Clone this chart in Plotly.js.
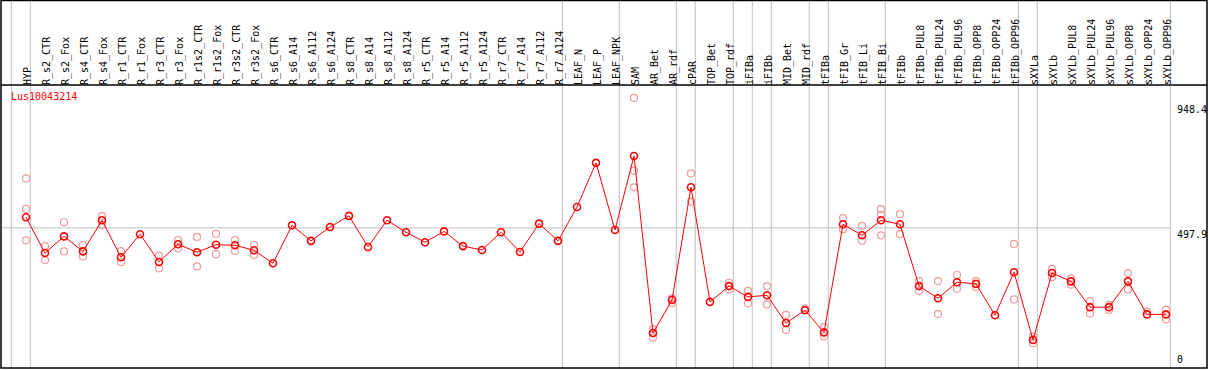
<!DOCTYPE html>
<html>
<head>
<meta charset="utf-8">
<script src="https://cdn.plot.ly/plotly-3.0.1.min.js"></script>
<style>html,body{margin:0;padding:0;background:#fff;}#chart{width:1209px;height:370px;}</style>
</head>
<body>
<div id="chart"></div>
<script>
const categories = ["HYP","R_s2_CTR","R_s2_Fox","R_s4_CTR","R_s4_Fox","R_r1_CTR","R_r1_Fox","R_r3_CTR","R_r3_Fox","R_r1s2_CTR","R_r1s2_Fox","R_r3s2_CTR","R_r3s2_Fox","R_s6_CTR","R_s6_A14","R_s6_A112","R_s6_A124","R_s8_CTR","R_s8_A14","R_s8_A112","R_s8_A124","R_r5_CTR","R_r5_A14","R_r5_A112","R_r5_A124","R_r7_CTR","R_r7_A14","R_r7_A112","R_r7_A124","LEAF_N","LEAF_P","LEAF_NPK","SAM","AR_Bet","AR_rdf","cPAR","TOP_Bet","TOP_rdf","iFIBa","iFIBb","MID_Bet","MID_rdf","tFIBa","tFIB_Gr","tFIB_Li","tFIB_Bi","tFIBb","tFIBb_PUL8","tFIBb_PUL24","tFIBb_PUL96","tFIBb_OPP8","tFIBb_OPP24","tFIBb_OPP96","sXYLa","sXYLb","sXYLb_PUL8","sXYLb_PUL24","sXYLb_PUL96","sXYLb_OPP8","sXYLb_OPP24","sXYLb_OPP96"];

const meanValues = [536,407,467,413,525,392,475,375,439,410,437,435,417,370,507,451,501,541,429,525,482,446,485,432,418,482,411,513,451,573,732,490,757,119,238,644,231,288,249,255,155,201,121,511,471,525,511,288,244,302,296,183,338,94,335,305,212,212,305,186,186];

const rep1 = [676,432,518,436,541,414,null,398,454,465,476,454,437,null,null,null,null,null,null,null,null,null,null,null,null,null,null,null,null,null,null,null,966,133,226,694,null,300,271,288,184,208,140,533,505,565,547,306,306,328,307,null,440,106,350,315,234,221,335,197,203];
const rep2 = [566,381,413,395,508,374,null,352,423,359,403,414,400,null,null,null,null,null,null,null,null,null,null,null,null,null,null,null,null,null,null,null,704,102,244,592,null,276,226,222,130,null,106,493,451,545,475,270,187,278,284,null,240,82,320,293,189,202,276,null,168];
const rep3 = [453,null,null,null,null,null,null,null,null,null,null,null,null,null,null,null,null,null,null,null,null,null,null,null,null,null,null,null,null,null,null,null,644,null,null,null,null,null,null,null,null,null,null,null,null,471,null,null,null,null,null,null,null,null,null,null,null,null,null,null,null];

const geneName = "Lus10043214";
const yTickVals = [497.9, 948.4];
const yTickText = ["497.9", "948.4"];
const yZeroVal = [0];
const yZeroText = ["0"];
const groupEnds = [-1,0,28,31,34,35,37,38,39,41,42,45,52,53,60];

const idx = categories.map((c,i)=>i);
const repX = [], repY = [];
[rep1, rep2, rep3].forEach(r => r.forEach((v,i)=>{ if (v !== null) { repX.push(i); repY.push(v); } }));

const font = {family: "DejaVu Sans Mono, monospace", size: 10, color: "#000"};
const xr = [-1.316, 62.158];
const labelShift = 1.5/19;
const yr = [-7.2, 1012.6];
const sepOff = 0.226;
const topPaper = 367.5/283;

const shapes = [];
groupEnds.forEach(k => shapes.push({type:"line", xref:"x", yref:"paper", x0:k+sepOff, x1:k+sepOff, y0:0, y1:topPaper, line:{color:"#c0c0c0", width:1}, layer:"below"}));
shapes.push({type:"line", xref:"x", yref:"y", x0:xr[0], x1:60+sepOff, y0:yTickVals[0], y1:yTickVals[0], line:{color:"#c0c0c0", width:1}, layer:"below"});
shapes.push({type:"rect", xref:"paper", yref:"paper", x0:0, x1:1, y0:0, y1:topPaper, line:{color:"#000", width:1.5}});
shapes.push({type:"line", xref:"paper", yref:"paper", x0:0, x1:1, y0:1, y1:1, line:{color:"#000", width:1.5}});

const traces = [
  {x: repX, y: repY, type:"scatter", mode:"markers", marker:{symbol:"circle-open", size:7, color:"#f09a9a", line:{width:1.2}}, hoverinfo:"skip", showlegend:false},
  {x: idx, y: meanValues, type:"scatter", mode:"lines+markers", line:{color:"#ff0000", width:1}, marker:{symbol:"circle-open", size:7, color:"#ff0000", line:{width:1.6}}, showlegend:false},
  {x: [0], y: [0], yaxis:"y2", type:"scatter", mode:"markers", marker:{opacity:0}, hoverinfo:"skip", showlegend:false},
  {x: [0], y: [0], xaxis:"x2", type:"scatter", mode:"markers", marker:{opacity:0}, hoverinfo:"skip", showlegend:false}
];

const layout = {
  width: 1209, height: 370,
  margin: {l:1, r:2, t:85, b:2, pad:0},
  paper_bgcolor: "#fff", plot_bgcolor: "#fff",
  showlegend: false,
  xaxis: {range: xr, showticklabels:false, showgrid:false, zeroline:false, showline:false, ticks:"", automargin:false, fixedrange:true},
  xaxis2: {range: [xr[0]-labelShift, xr[1]-labelShift], overlaying:"x", side:"top", tickmode:"array", tickvals: idx, ticktext: categories, tickangle:-90, tickfont: font, showgrid:false, zeroline:false, showline:false, ticks:"", ticklabelstandoff:-1, automargin:false, fixedrange:true},
  yaxis: {range: yr, anchor:"free", position: 1170/1206, side:"right", tickmode:"array", tickvals: yTickVals, ticktext: yTickText, ticklabelposition:"outside bottom", tickfont: font, showgrid:false, zeroline:false, showline:false, ticks:"", ticklabelstandoff:5, automargin:false, fixedrange:true},
  yaxis2: {range: yr, overlaying:"y", anchor:"free", position: 1170/1206, side:"right", tickmode:"array", tickvals: yZeroVal, ticktext: yZeroText, ticklabelposition:"outside top", tickfont: font, showgrid:false, zeroline:false, showline:false, ticks:"", ticklabelstandoff:5, automargin:false, fixedrange:true},
  shapes: shapes,
  annotations: [{text: geneName, xref:"paper", yref:"paper", x: 8/1206, y: (368-97)/283, xanchor:"left", yanchor:"middle", showarrow:false, font:{family:"DejaVu Sans Mono, monospace", size:10, color:"#ff0000"}}]
};

Plotly.newPlot("chart", traces, layout, {staticPlot:true, displayModeBar:false});
</script>
</body>
</html>
